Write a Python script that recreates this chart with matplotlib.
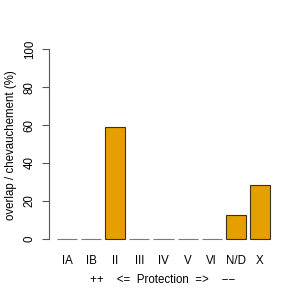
import matplotlib
matplotlib.use("Agg")
import matplotlib.pyplot as plt

categories = ["IA", "IB", "II", "III", "IV", "V", "VI", "N/D", "X"]
values = [0, 0, 59.1, 0, 0, 0, 0, 12.3, 28.4]
yticks = [0, 20, 40, 60, 80, 100]

plt.rcParams['font.family'] = ['Liberation Sans', 'DejaVu Sans']
FS = 8.3

fig = plt.figure(figsize=(3, 3), dpi=100)
ax = fig.add_axes([49/300, 1-246.3/300, 229/300, 204.6/300])

x = [0.7 + 1.2*i for i in range(len(categories))]
edges = ["#3d3020" if v > 0 else "#7a7a7a" for v in values]
ax.bar(x, values, width=1.0, color="#E69F00", edgecolor=edges, linewidth=0.8)

ax.set_xlim(-0.224, 11.224)
ax.set_ylim(-4, 104)
for s in ["top", "right", "bottom"]:
    ax.spines[s].set_visible(False)
ax.spines["left"].set_bounds(0, 100)
ax.spines["left"].set_color("#555555")
ax.spines["left"].set_linewidth(0.8)

ax.set_yticks(yticks)
ax.set_yticklabels([str(v) for v in yticks], rotation=90, va="center", fontsize=FS)
ax.tick_params(axis="y", length=5, width=0.8, color="#555555", pad=4.5)

ax.set_xticks(x)
ax.set_xticklabels(categories, fontsize=FS)
ax.tick_params(axis="x", length=0, pad=6)

fig.text(162.5/300, 1-280/300, "++    <=  Protection  =>    \u2212\u2212", ha="center", va="center", fontsize=FS)
fig.text(11/300, 1-145/300, "overlap / chevauchement (%)", ha="center", va="center", rotation=90, fontsize=FS)

fig.savefig("out.png", dpi=100)
